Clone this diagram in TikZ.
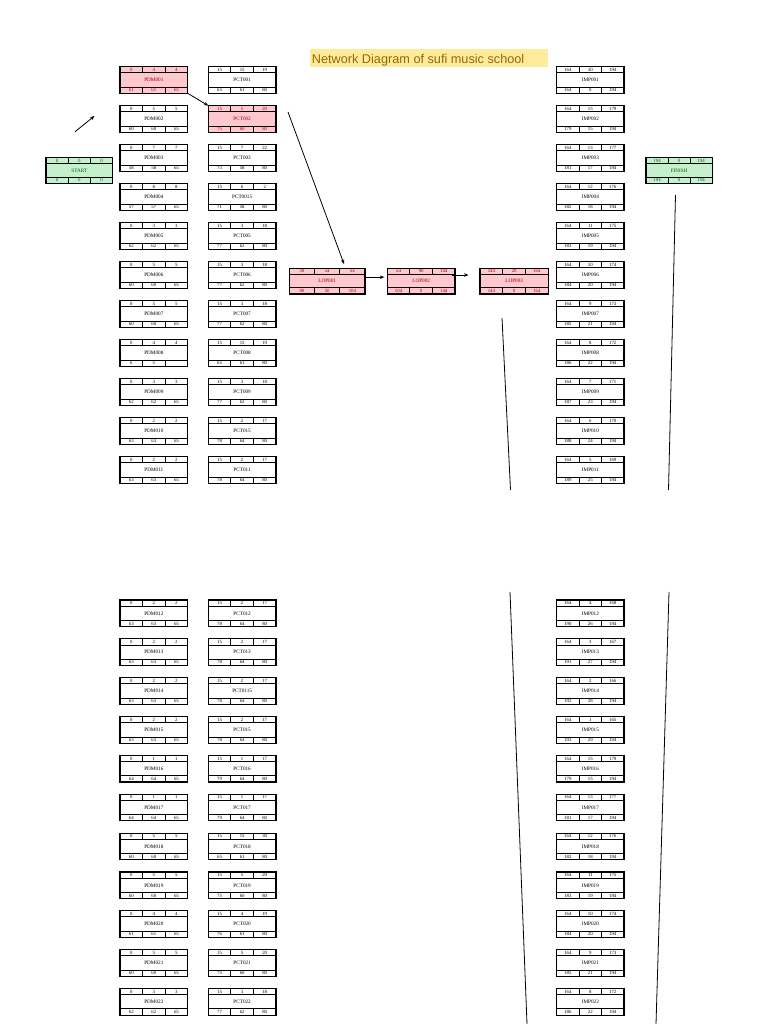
\documentclass[tikz,border=0pt]{standalone}
\usepackage{fontspec}
\setmainfont{Liberation Serif}
\newfontfamily\titlefont{Liberation Sans}
\usetikzlibrary{arrows.meta,calc}
\definecolor{critfill}{HTML}{FFC7CE}
\definecolor{crittext}{HTML}{9C0006}
\definecolor{termfill}{HTML}{C6EFCE}
\definecolor{termtext}{HTML}{006100}
\definecolor{titlefill}{HTML}{FFEB9C}
\definecolor{titletext}{HTML}{9C6500}
\tikzset{
  box/.style={draw=black, line width=1.1pt, fill=white, inner sep=0pt, outer sep=0pt, anchor=north west},
  plainbox/.style={},
  critbox/.style={fill=critfill},
  termbox/.style={fill=termfill},
  cellline/.style={draw=black, line width=0.8pt},
  celltxt/.style={inner sep=0pt, font=\fontsize{4.8}{5}\selectfont},
  labtxt/.style={inner sep=0pt, font=\fontsize{5.2}{6}\selectfont},
  conn/.style={draw=black, line width=0.8pt},
  arr/.style={conn, -{Stealth[length=4.5pt,width=3.5pt]}},
}
\def\tstyle{plainbox}\def\tcol{black}
\def\tw{67.5}\def\th{26.6}
\newcommand\tsk[9]{\def\tN{#1}\def\tX{#2}\def\tY{#3}\def\tL{#4}\def\tA{#5}\def\tB{#6}\def\tC{#7}\def\tD{#8}\def\tE{#9}\tskB}
\newcommand\tskB[1]{%
  \node[box, minimum width=\tw pt, minimum height=\th pt, \tstyle] (\tN) at (\tX,\tY) {};
  \draw[cellline] ({\tX},{\tY+6}) -- ({\tX+\tw},{\tY+6});
  \draw[cellline] ({\tX},{\tY+\th-6.3}) -- ({\tX+\tw},{\tY+\th-6.3});
  \draw[cellline] ({\tX+\tw/3},{\tY}) -- ({\tX+\tw/3},{\tY+6});
  \draw[cellline] ({\tX+2*\tw/3},{\tY}) -- ({\tX+2*\tw/3},{\tY+6});
  \draw[cellline] ({\tX+\tw/3},{\tY+\th-6.3}) -- ({\tX+\tw/3},{\tY+\th});
  \draw[cellline] ({\tX+2*\tw/3},{\tY+\th-6.3}) -- ({\tX+2*\tw/3},{\tY+\th});
  \node[celltxt, text=\tcol] (\tN-a) at ({\tX+\tw/6},{\tY+3.1}) {\tA};
  \node[celltxt, text=\tcol] (\tN-b) at ({\tX+\tw/2},{\tY+3.1}) {\tB};
  \node[celltxt, text=\tcol] (\tN-c) at ({\tX+5*\tw/6},{\tY+3.1}) {\tC};
  \node[labtxt, text=\tcol] (\tN-l) at ({\tX+\tw/2},{\tY+\th/2}) {\tL};
  \node[celltxt, text=\tcol] (\tN-d) at ({\tX+\tw/6},{\tY+\th-3.1}) {\tD};
  \node[celltxt, text=\tcol] (\tN-e) at ({\tX+\tw/2},{\tY+\th-3.1}) {\tE};
  \node[celltxt, text=\tcol] (\tN-f) at ({\tX+5*\tw/6},{\tY+\th-3.1}) {#1};
}
\begin{document}
\begin{tikzpicture}[x=1pt,y=-1pt]
\useasboundingbox (0,0) rectangle (768,1024);
\fill[white] (0,0) rectangle (768,1024);
% title
\node[fill=titlefill, minimum width=238pt, minimum height=17.4pt, anchor=north west, inner sep=0pt] (title) at (310,49.3) {};
\node[anchor=base west, text=titletext, font=\titlefont\fontsize{12.7}{14}\selectfont, inner sep=0pt] (titletxt) at (311.7,63.2) {Network Diagram of sufi music school};
% START / FINISH
\def\tstyle{termbox}\def\tcol{termtext}\def\th{25.6}
\def\tw{66.7}\tsk{START}{46}{157.7}{START}{0}{0}{0}{0}{0}{0}
\def\tw{66.3}\tsk{FINISH}{646}{157.7}{FINISH}{194}{0}{194}{194}{0}{194}
% critical path
\def\tstyle{critbox}\def\tcol{crittext}\def\th{26.6}\def\tw{67.7}
\tsk{PDM001}{120}{66.7}{PDM001}{0}{4}{4}{61}{61}{65}
\tsk{PCT002}{208.3}{105.7}{PCT002}{15}{5}{20}{75}{60}{80}
\def\th{25.7}
\def\tw{75.7}\tsk{LOP001}{289.3}{268.3}{LOP001}{30}{24}{54}{80}{50}{104}
\def\tw{67.7}\tsk{LOP002}{387.3}{268.3}{LOP002}{54}{90}{144}{104}{0}{144}
\def\tw{68.3}\tsk{LOP003}{480}{268.3}{LOP003}{144}{20}{164}{144}{0}{164}
% plain nodes
\def\tstyle{plainbox}\def\tcol{black}\def\th{26.6}\def\tw{67.7}
% PDM top
\tsk{PDM002}{120}{105.7}{PDM002}{0}{5}{5}{60}{60}{65}
\tsk{PDM003}{120}{144.7}{PDM003}{0}{7}{7}{58}{58}{65}
\tsk{PDM004}{120}{183.7}{PDM004}{0}{8}{8}{57}{57}{65}
\tsk{PDM005}{120}{222.7}{PDM005}{0}{3}{3}{62}{62}{65}
\tsk{PDM006}{120}{261.7}{PDM006}{0}{5}{5}{60}{60}{65}
\tsk{PDM007}{120}{300.7}{PDM007}{0}{5}{5}{60}{60}{65}
\tsk{PDM008}{120}{339.7}{PDM008}{0}{4}{4}{6}{5}{}
\tsk{PDM009}{120}{378.7}{PDM009}{0}{3}{3}{62}{62}{65}
\tsk{PDM010}{120}{417.7}{PDM010}{0}{2}{2}{63}{63}{65}
\tsk{PDM011}{120}{456.7}{PDM011}{0}{2}{2}{63}{63}{65}
% PCT top
\tsk{PCT001}{208.3}{66.7}{PCT001}{15}{15}{19}{65}{61}{80}
\tsk{PCT003}{208.3}{144.7}{PCT003}{15}{7}{22}{73}{58}{80}
\tsk{PCT0015}{208.3}{183.7}{PCT0015}{15}{6}{2}{71}{58}{80}
\tsk{PCT005}{208.3}{222.7}{PCT005}{15}{3}{18}{77}{62}{80}
\tsk{PCT006}{208.3}{261.7}{PCT006}{15}{3}{18}{77}{62}{80}
\tsk{PCT007}{208.3}{300.7}{PCT007}{15}{3}{18}{77}{62}{80}
\tsk{PCT008}{208.3}{339.7}{PCT008}{15}{15}{19}{65}{61}{80}
\tsk{PCT009}{208.3}{378.7}{PCT009}{15}{3}{18}{77}{62}{80}
\tsk{PCT015a}{208.3}{417.7}{PCT015}{15}{2}{17}{78}{64}{80}
\tsk{PCT011}{208.3}{456.7}{PCT011}{15}{2}{17}{78}{64}{80}
% IMP top
\def\tw{67.3}
\tsk{IMP001}{556.7}{66.7}{IMP001}{164}{30}{194}{164}{0}{194}
\tsk{IMP002}{556.7}{105.7}{IMP002}{164}{15}{179}{179}{15}{194}
\tsk{IMP003}{556.7}{144.7}{IMP003}{164}{13}{177}{181}{17}{194}
\tsk{IMP004}{556.7}{183.7}{IMP004}{164}{12}{176}{182}{18}{194}
\tsk{IMP005}{556.7}{222.7}{IMP005}{164}{11}{175}{183}{19}{194}
\tsk{IMP006}{556.7}{261.7}{IMP006}{164}{10}{174}{184}{20}{194}
\tsk{IMP007}{556.7}{300.7}{IMP007}{164}{9}{173}{185}{21}{194}
\tsk{IMP008}{556.7}{339.7}{IMP008}{164}{8}{172}{186}{22}{194}
\tsk{IMP009}{556.7}{378.7}{IMP009}{164}{7}{171}{187}{23}{194}
\tsk{IMP010}{556.7}{417.7}{IMP010}{164}{6}{170}{188}{24}{194}
\tsk{IMP011}{556.7}{456.7}{IMP011}{164}{5}{169}{189}{25}{194}
% PDM bottom
\def\tw{67.7}
\tsk{PDM012}{120}{600}{PDM012}{0}{2}{2}{63}{63}{65}
\tsk{PDM013}{120}{638.9}{PDM013}{0}{2}{2}{63}{63}{65}
\tsk{PDM014}{120}{677.7}{PDM014}{0}{2}{2}{63}{63}{65}
\tsk{PDM015}{120}{716.6}{PDM015}{0}{2}{2}{63}{63}{65}
\tsk{PDM016}{120}{755.4}{PDM016}{0}{1}{1}{64}{64}{65}
\tsk{PDM017}{120}{794.3}{PDM017}{0}{1}{1}{64}{64}{65}
\tsk{PDM018}{120}{833.1}{PDM018}{0}{5}{5}{60}{60}{65}
\tsk{PDM019}{120}{872}{PDM019}{0}{5}{5}{60}{60}{65}
\tsk{PDM020}{120}{910.8}{PDM020}{0}{4}{4}{61}{61}{65}
\tsk{PDM021}{120}{949.7}{PDM021}{0}{5}{5}{60}{60}{65}
\tsk{PDM022}{120}{988.5}{PDM022}{0}{3}{3}{62}{62}{65}
% PCT bottom
\tsk{PCT012}{208.3}{600}{PCT012}{15}{2}{17}{78}{64}{80}
\tsk{PCT013}{208.3}{638.9}{PCT013}{15}{2}{17}{78}{64}{80}
\tsk{PCT0115}{208.3}{677.7}{PCT0115}{15}{2}{17}{78}{64}{80}
\tsk{PCT015b}{208.3}{716.6}{PCT015}{15}{2}{17}{78}{64}{80}
\tsk{PCT016}{208.3}{755.4}{PCT016}{15}{1}{17}{79}{64}{80}
\tsk{PCT017}{208.3}{794.3}{PCT017}{15}{1}{17}{79}{64}{80}
\tsk{PCT018}{208.3}{833.1}{PCT018}{15}{15}{30}{65}{61}{80}
\tsk{PCT019}{208.3}{872}{PCT019}{15}{5}{20}{75}{60}{80}
\tsk{PCT020}{208.3}{910.8}{PCT020}{15}{4}{19}{76}{61}{80}
\tsk{PCT021}{208.3}{949.7}{PCT021}{15}{5}{20}{75}{60}{80}
\tsk{PCT022}{208.3}{988.5}{PCT022}{15}{3}{18}{77}{62}{80}
% IMP bottom
\def\tw{67.3}
\tsk{IMP012}{556.7}{600}{IMP012}{164}{4}{168}{190}{26}{194}
\tsk{IMP013}{556.7}{638.9}{IMP013}{164}{3}{167}{191}{27}{194}
\tsk{IMP014}{556.7}{677.7}{IMP014}{164}{2}{166}{192}{28}{194}
\tsk{IMP015}{556.7}{716.6}{IMP015}{164}{1}{165}{193}{29}{194}
\tsk{IMP016}{556.7}{755.4}{IMP016}{164}{15}{179}{179}{15}{194}
\tsk{IMP017}{556.7}{794.3}{IMP017}{164}{13}{177}{181}{17}{194}
\tsk{IMP018}{556.7}{833.1}{IMP018}{164}{12}{176}{182}{18}{194}
\tsk{IMP019}{556.7}{872}{IMP019}{164}{11}{175}{183}{19}{194}
\tsk{IMP020}{556.7}{910.8}{IMP020}{164}{10}{174}{184}{20}{194}
\tsk{IMP021}{556.7}{949.7}{IMP021}{164}{9}{173}{185}{21}{194}
\tsk{IMP022}{556.7}{988.5}{IMP022}{164}{8}{172}{186}{22}{194}
% connectors
\coordinate (s1) at (75,131.7);
\coordinate (s2) at (94.5,116);
\draw[arr] (s1) -- (s2);
\draw[arr] (PDM001.south east) -- (PCT002.north west);
\coordinate (c3) at (288,112);
\coordinate (c4) at (344,264);
\draw[arr] (c3) -- (c4);
\draw[arr] ($(LOP001.east)+(0,-4)$) -- ($(LOP002.west)+(-3,-4)$);
\coordinate (l2) at (451.7,275);
\coordinate (l3) at (468.5,275);
\draw[arr] (l2) -- (l3);
\coordinate (v1a) at (502,318);
\coordinate (v1b) at (510.5,490);
\coordinate (v2a) at (675.5,195);
\coordinate (v2b) at (668.5,490);
\coordinate (v3a) at (510,592);
\coordinate (v3b) at (527,1024);
\coordinate (v4a) at (669,592);
\coordinate (v4b) at (656,1024);
\draw[conn] (v1a) -- (v1b);
\draw[conn] (v2a) -- (v2b);
\draw[conn] (v3a) -- (v3b);
\draw[conn] (v4a) -- (v4b);
\end{tikzpicture}
\end{document}
